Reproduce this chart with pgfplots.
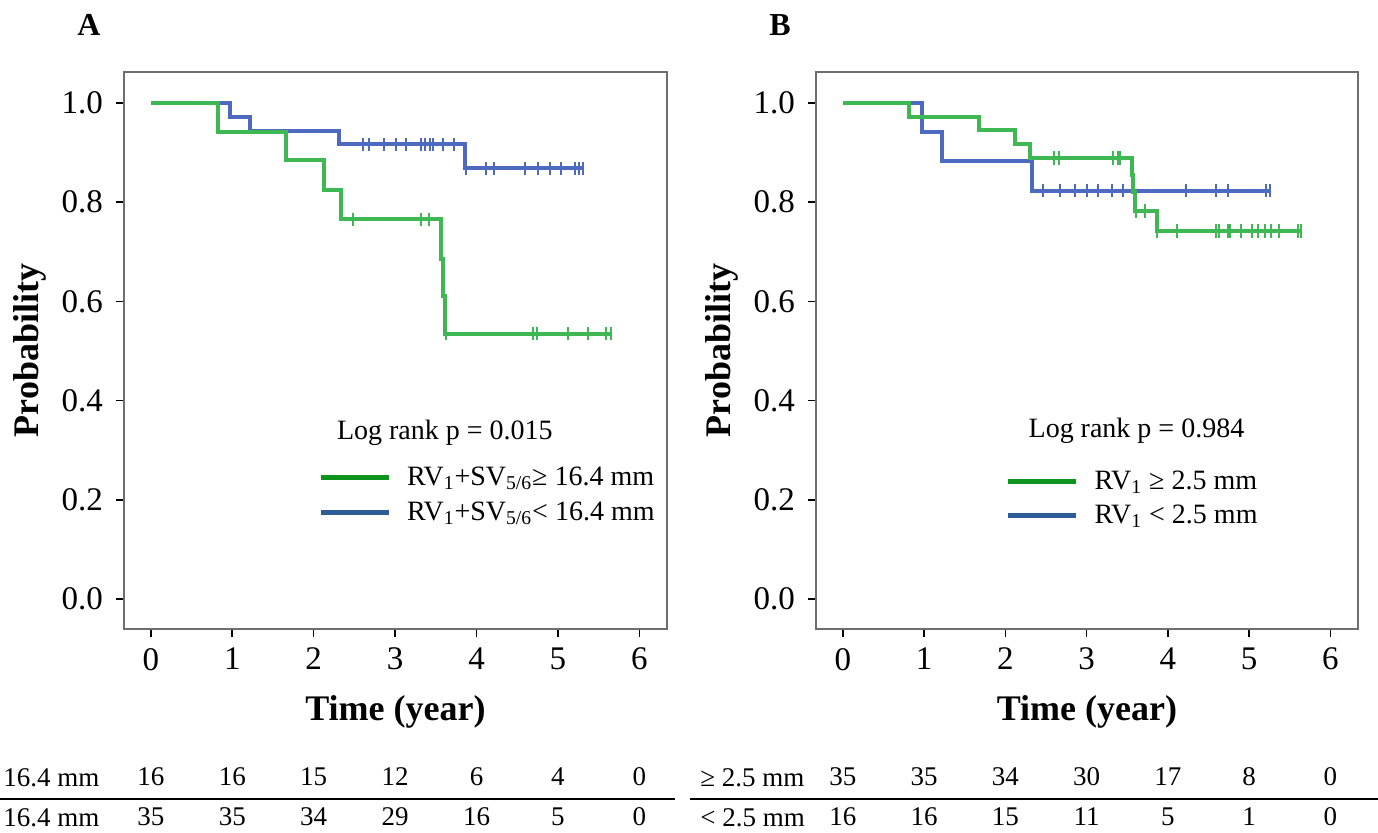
\documentclass[border=0pt]{standalone}
\usepackage{pgfplots}
\pgfplotsset{compat=1.18}
\usepackage{fontspec}
\setmainfont{Liberation Serif}

\definecolor{kmgreen}{RGB}{62,184,82}
\definecolor{kmblue}{RGB}{78,106,192}
\definecolor{leggreen}{RGB}{12,148,30}
\definecolor{legblue}{RGB}{46,92,150}
\definecolor{boxgray}{RGB}{110,110,110}

\newcommand{\ticksize}{\fontsize{16.5}{19}\selectfont}
\newcommand{\legsize}{\fontsize{14}{16}\selectfont}
\newcommand{\tabsize}{\fontsize{13.5}{15}\selectfont}

\pgfplotsset{
    km axis/.style={
        scale only axis,
        width=271.5pt, height=278.5pt,
        xmin=-0.33, xmax=6.34,
        ymin=-0.06, ymax=1.062,
        xtick={0,1,2,3,4,5,6},
        ytick={0,0.2,0.4,0.6,0.8,1},
        xtick pos=lower, ytick pos=left,
        tick align=outside, major tick length=4pt,
        axis line style={draw=boxgray, line width=1pt},
        tick style={black, line width=0.8pt},
        ticklabel style={font=\ticksize},
        xticklabel style={yshift=-2pt},
        /pgf/number format/assume math mode=true,
        yticklabel style={xshift=-3pt, /pgf/number format/.cd, fixed, fixed zerofill, precision=1},
        xlabel={Time (year)},
        ylabel={Probability},
        xlabel style={font=\fontsize{18}{20}\selectfont\bfseries,
            at={(axis description cs:0.5,-0.149)}, anchor=center},
        ylabel style={font=\fontsize{18}{20}\selectfont\bfseries,
            at={(axis description cs:-0.173,0.5)}, anchor=center},
        clip=false,
        legend style={draw=none, fill=none, font=\legsize, inner sep=0pt,
            row sep=2.5pt, cells={anchor=west},
            /tikz/every odd column/.style={column sep=6pt}},
        legend image code/.code={\draw[#1, line width=2.5pt] (0pt,0pt) -- (34pt,0pt);},
    },
    km line/.style={const plot mark left, line width=2pt, no marks},
    km cens/.style={only marks, mark=|, mark size=3.4pt, line width=1pt},
}
\tikzset{risk/.style={anchor=base, font=\tabsize, inner sep=0pt}}

\begin{document}
\begin{tikzpicture}
\path[use as bounding box] (0,0) rectangle (689pt,416pt);

\node[font=\fontsize{16}{18}\selectfont\bfseries] at (44.5pt,403.5pt) {A};
\node[font=\fontsize{16}{18}\selectfont\bfseries] at (390pt,403.5pt) {B};

% ---------------- Panel A ----------------
\begin{axis}[km axis, at={(62pt,101.5pt)}, anchor=south west,
    legend style={at={(axis cs:2.05,0.275)}, anchor=north west}]
    % RV1+SV5/6 < 16.4 mm (n=35)
    \addplot[km line, kmblue, forget plot] coordinates {
        (0,1) (0.977,0.971) (1.218,0.944) (2.306,0.916) (3.863,0.868) (5.311,0.868)};
    \addplot[km cens, kmblue, forget plot] coordinates {
        (2.600,0.916) (2.675,0.916) (2.863,0.916) (3.017,0.916) (3.140,0.916)
        (3.324,0.916) (3.368,0.916) (3.434,0.916) (3.465,0.916) (3.587,0.916)
        (3.719,0.916)
        (3.872,0.868) (4.114,0.868) (4.210,0.868) (4.596,0.868) (4.750,0.868)
        (4.903,0.868) (5.035,0.868) (5.210,0.868) (5.254,0.868) (5.311,0.868)};
    % RV1+SV5/6 >= 16.4 mm (n=16)
    \addplot[km line, kmgreen, forget plot] coordinates {
        (0,1) (0.824,0.941) (1.666,0.884) (2.126,0.825) (2.337,0.765)
        (3.565,0.686) (3.587,0.610) (3.609,0.535) (5.648,0.535)};
    \addplot[km cens, kmgreen, forget plot] coordinates {
        (2.477,0.765) (3.315,0.765) (3.416,0.765)
        (3.620,0.535) (4.693,0.535) (4.741,0.535) (5.123,0.535)
        (5.364,0.535) (5.592,0.535) (5.648,0.535)};

    \addlegendimage{leggreen}
    \addlegendentry{RV\textsubscript{1}+SV\textsubscript{5/6}≥ 16.4 mm}
    \addlegendimage{legblue}
    \addlegendentry{RV\textsubscript{1}+SV\textsubscript{5/6}< 16.4 mm}

    \node[anchor=west, font=\legsize] at (axis cs:2.20,0.336) {Log rank p = 0.015};

    % numbers at risk
    \node[risk] at (axis cs:0,-0.376) {16};
    \node[risk] at (axis cs:1,-0.376) {16};
    \node[risk] at (axis cs:2,-0.376) {15};
    \node[risk] at (axis cs:3,-0.376) {12};
    \node[risk] at (axis cs:4,-0.376) {6};
    \node[risk] at (axis cs:5,-0.376) {4};
    \node[risk] at (axis cs:6,-0.376) {0};
    \node[risk] at (axis cs:0,-0.456) {35};
    \node[risk] at (axis cs:1,-0.456) {35};
    \node[risk] at (axis cs:2,-0.456) {34};
    \node[risk] at (axis cs:3,-0.456) {29};
    \node[risk] at (axis cs:4,-0.456) {16};
    \node[risk] at (axis cs:5,-0.456) {5};
    \node[risk] at (axis cs:6,-0.456) {0};
\end{axis}

% ---------------- Panel B ----------------
\begin{axis}[km axis, at={(408pt,101.5pt)}, anchor=south west, width=271pt,
    legend style={at={(axis cs:2.0,0.268)}, anchor=north west}]
    % RV1 < 2.5 mm (n=16)
    \addplot[km line, kmblue, forget plot] coordinates {
        (0,1) (0.975,0.942) (1.220,0.882) (2.334,0.823) (5.253,0.823)};
    \addplot[km cens, kmblue, forget plot] coordinates {
        (2.468,0.823) (2.677,0.823) (2.855,0.823) (3.011,0.823) (3.136,0.823)
        (3.314,0.823) (3.448,0.823) (4.219,0.823) (4.598,0.823) (4.740,0.823)
        (5.208,0.823) (5.253,0.823)};
    % RV1 >= 2.5 mm (n=35)
    \addplot[km line, kmgreen, forget plot] coordinates {
        (0,1) (0.820,0.971) (1.675,0.945) (2.125,0.917) (2.303,0.889)
        (3.559,0.854) (3.575,0.820) (3.590,0.782) (3.871,0.742) (5.640,0.742)};
    \addplot[km cens, kmgreen, forget plot] coordinates {
        (2.602,0.889) (2.655,0.889) (3.328,0.889) (3.381,0.889) (3.412,0.889)
        (3.604,0.782) (3.715,0.782)
        (3.871,0.742) (4.107,0.742) (4.598,0.742) (4.629,0.742) (4.740,0.742)
        (4.763,0.742) (4.905,0.742) (5.030,0.742) (5.110,0.742) (5.195,0.742)
        (5.275,0.742) (5.364,0.742) (5.596,0.742) (5.640,0.742)};

    \addlegendimage{leggreen}
    \addlegendentry{RV\textsubscript{1} ≥ 2.5 mm}
    \addlegendimage{legblue}
    \addlegendentry{RV\textsubscript{1} < 2.5 mm}

    \node[anchor=west, font=\legsize] at (axis cs:2.20,0.339) {Log rank p = 0.984};

    \node[risk] at (axis cs:0,-0.376) {35};
    \node[risk] at (axis cs:1,-0.376) {35};
    \node[risk] at (axis cs:2,-0.376) {34};
    \node[risk] at (axis cs:3,-0.376) {30};
    \node[risk] at (axis cs:4,-0.376) {17};
    \node[risk] at (axis cs:5,-0.376) {8};
    \node[risk] at (axis cs:6,-0.376) {0};
    \node[risk] at (axis cs:0,-0.456) {16};
    \node[risk] at (axis cs:1,-0.456) {16};
    \node[risk] at (axis cs:2,-0.456) {15};
    \node[risk] at (axis cs:3,-0.456) {11};
    \node[risk] at (axis cs:4,-0.456) {5};
    \node[risk] at (axis cs:5,-0.456) {1};
    \node[risk] at (axis cs:6,-0.456) {0};
\end{axis}

% row labels and separators of the at-risk table
\node[anchor=base west, font=\tabsize, inner sep=0pt] at (1.5pt,23pt) {16.4 mm};
\node[anchor=base west, font=\tabsize, inner sep=0pt] at (1.5pt,3pt) {16.4 mm};
\node[anchor=base west, font=\tabsize, inner sep=0pt] at (350pt,23pt) {≥ 2.5 mm};
\node[anchor=base west, font=\tabsize, inner sep=0pt] at (350pt,3pt) {< 2.5 mm};
\draw[line width=1pt] (0pt,16.5pt) -- (337.5pt,16.5pt);
\draw[line width=1pt] (345pt,16.5pt) -- (689pt,16.5pt);
\end{tikzpicture}
\end{document}
